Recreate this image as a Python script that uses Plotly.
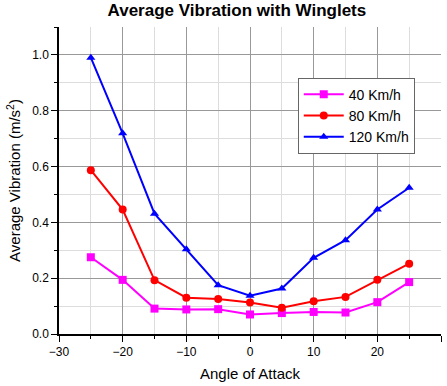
import plotly.graph_objects as go

angle = [-25, -20, -15, -10, -5, 0, 5, 10, 15, 20, 25]
vib_40 = [0.275, 0.194, 0.091, 0.088, 0.089, 0.070, 0.075, 0.079, 0.077, 0.114, 0.186]
vib_80 = [0.587, 0.446, 0.193, 0.130, 0.125, 0.113, 0.094, 0.117, 0.133, 0.194, 0.252]
vib_120 = [0.990, 0.719, 0.431, 0.304, 0.175, 0.137, 0.163, 0.273, 0.336, 0.446, 0.524]

series = [
    ("40 Km/h", vib_40, "#ff00ff", "square"),
    ("80 Km/h", vib_80, "#ff0000", "circle"),
    ("120 Km/h", vib_120, "#0000ff", "triangle-up"),
]

fig = go.Figure()
for name, vals, color, symbol in series:
    fig.add_trace(go.Scatter(
        x=angle, y=vals, name=name, mode="lines+markers",
        line=dict(color=color, width=2),
        marker=dict(color=color, symbol=symbol, size=8),
    ))

font_family = "Liberation Sans, Arial, sans-serif"
fig.update_layout(
    width=447, height=386,
    margin=dict(l=59, r=6, t=27, b=52),
    paper_bgcolor="white", plot_bgcolor="white",
    font=dict(family=font_family, color="black", size=12),
    title=dict(text="<b>Average Vibration with Winglets</b>", x=0.53, xanchor="center",
               y=0.99, yanchor="top", font=dict(size=17)),
    showlegend=True,
    legend=dict(x=0.625, y=0.835, xanchor="left", yanchor="top",
                bgcolor="white", bordercolor="#666666", borderwidth=1,
                font=dict(size=14), tracegroupgap=0, itemwidth=40,
                entrywidth=0),
)
fig.update_xaxes(
    range=[-30, 30], tickvals=[-30, -20, -10, 0, 10, 20, 30],
    showgrid=True, gridcolor="#999999", gridwidth=1,
    minor=dict(dtick=5, showgrid=True, gridcolor="#dddddd", ticks="outside", ticklen=3, tickcolor="black"),
    ticks="outside", ticklen=6, tickcolor="black",
    showline=True, linecolor="black", linewidth=1.5, zeroline=False,
    title=dict(text="Angle of Attack", font=dict(size=15), standoff=10),
)
fig.update_yaxes(
    range=[0, 1.1], tickvals=[0, 0.2, 0.4, 0.6, 0.8, 1.0], tickformat=".1f",
    showgrid=True, gridcolor="#999999", gridwidth=1,
    minor=dict(dtick=0.1, showgrid=True, gridcolor="#dddddd", ticks="outside", ticklen=3, tickcolor="black"),
    ticks="outside", ticklen=6, tickcolor="black",
    showline=True, linecolor="black", linewidth=1.5, zeroline=False,
    title=dict(text="Average Vibration (m/s<sup>2</sup>)", font=dict(size=15), standoff=8),
)

fig.write_html("out.html")
